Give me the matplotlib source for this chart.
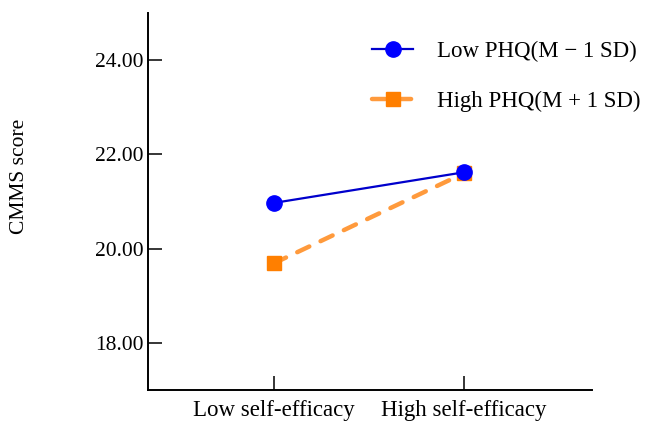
import matplotlib
matplotlib.use("Agg")
import matplotlib.pyplot as plt

plt.rcParams['font.family'] = ['Liberation Serif', 'DejaVu Serif']

categories = ["Low self-efficacy", "High self-efficacy"]
low_phq = [20.97, 21.62]
high_phq = [19.69, 21.60]
yticks = [18.0, 20.0, 22.0, 24.0]
series_labels = ["Low PHQ(M \u2212 1 SD)", "High PHQ(M + 1 SD)"]

fig = plt.figure(figsize=(6.47, 4.21), dpi=100)
ax = fig.add_axes([148/647, 1-390/421, (592-148)/647, (390-13)/421])

x = list(range(len(categories)))
ax.plot(x, low_phq, color='#0000CC', lw=1.6, marker='o', markersize=11,
        markerfacecolor='#0000FF', markeredgecolor='#0000FF', label=series_labels[0], zorder=3)
ax.plot(x, high_phq, color='#FF9A3C', lw=3.2, ls=(0, (3.0, 2.8)), dash_capstyle='round',
        marker='s', markersize=10.5,
        markerfacecolor='#FF7F00', markeredgecolor='#FF7F00', label=series_labels[1], zorder=2)

ax.set_xlim(-0.663, 1.674)
ax.set_ylim(17.0, 25.0)
ax.set_xticks(x)
ax.set_xticklabels(categories)
ax.set_yticks(yticks)
ax.set_yticklabels([f"{v:.2f}" for v in yticks])

for s in ['top', 'right']:
    ax.spines[s].set_visible(False)
for s in ['left', 'bottom']:
    ax.spines[s].set_linewidth(1.4)
ax.tick_params(direction='in', length=10, width=1.1, colors='black')
ax.tick_params(axis='y', pad=3, labelsize=15.5)
ax.tick_params(axis='x', pad=7, labelsize=16.5)

fig.text(20/647, 1-176/421, "CMMS score", rotation=90, ha='center', va='center', fontsize=15.5)

leg = ax.legend(loc='upper left', bbox_to_anchor=(372/647, 1-41/421), bbox_transform=fig.transFigure,
                frameon=False, fontsize=16.5, handlelength=1.8, handletextpad=1.05, labelspacing=1.25,
                borderpad=0, borderaxespad=0)

fig.savefig("out.png", dpi=100)
